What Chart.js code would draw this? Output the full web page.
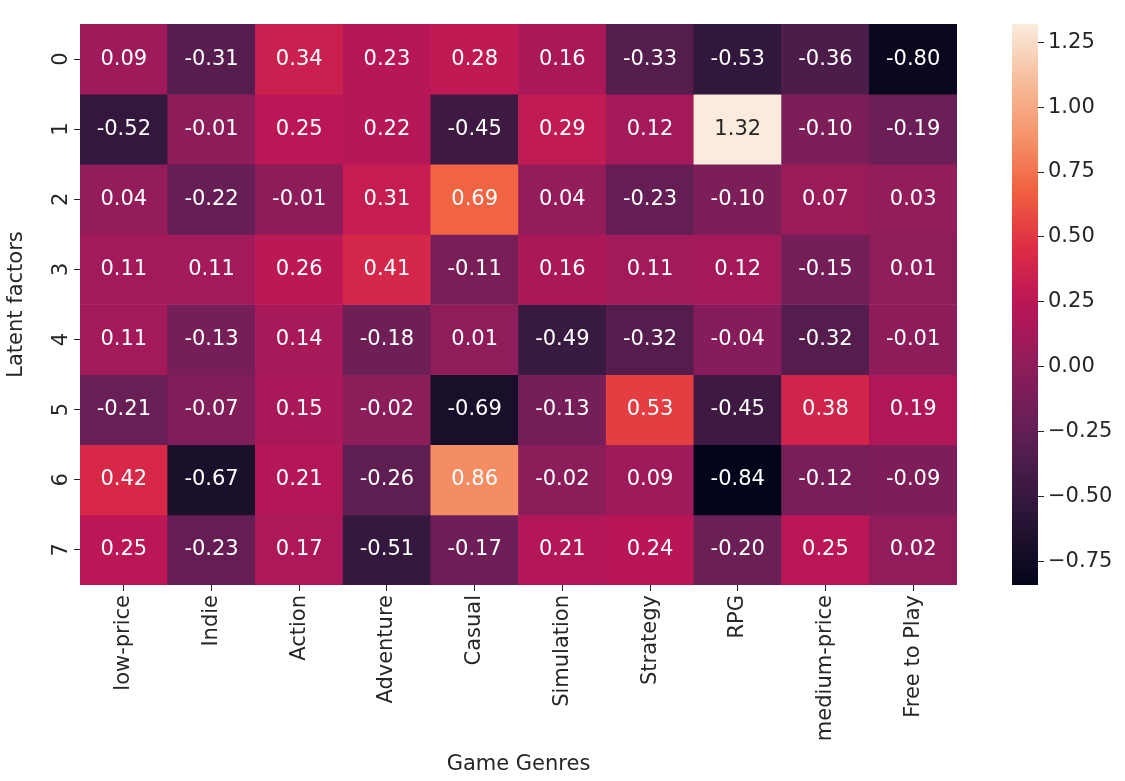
<!DOCTYPE html>
<html>
<head>
<meta charset="utf-8">
<script src="https://cdn.jsdelivr.net/npm/chart.js@4"></script>
<style>
  body { margin: 0; background: #fff; width: 1125px; height: 781px; overflow: hidden; }
  #wrap { position: absolute; left: 0; top: 0; width: 990px; height: 781px; }
  #cbwrap { position: absolute; left: 990px; top: 0; width: 135px; height: 781px; }
</style>
</head>
<body>
<div id="wrap"><canvas id="heat"></canvas></div>
<div id="cbwrap"><canvas id="cbar"></canvas></div>
<script>
const genres = ['low-price', 'Indie', 'Action', 'Adventure', 'Casual', 'Simulation', 'Strategy', 'RPG', 'medium-price', 'Free to Play'];
const factors = ['0', '1', '2', '3', '4', '5', '6', '7'];
const row0 = [0.09, -0.31, 0.34, 0.23, 0.28, 0.16, -0.33, -0.53, -0.36, -0.80];
const row1 = [-0.52, -0.01, 0.25, 0.22, -0.45, 0.29, 0.12, 1.32, -0.10, -0.19];
const row2 = [0.04, -0.22, -0.01, 0.31, 0.69, 0.04, -0.23, -0.10, 0.07, 0.03];
const row3 = [0.11, 0.11, 0.26, 0.41, -0.11, 0.16, 0.11, 0.12, -0.15, 0.01];
const row4 = [0.11, -0.13, 0.14, -0.18, 0.01, -0.49, -0.32, -0.04, -0.32, -0.01];
const row5 = [-0.21, -0.07, 0.15, -0.02, -0.69, -0.13, 0.53, -0.45, 0.38, 0.19];
const row6 = [0.42, -0.67, 0.21, -0.26, 0.86, -0.02, 0.09, -0.84, -0.12, -0.09];
const row7 = [0.25, -0.23, 0.17, -0.51, -0.17, 0.21, 0.24, -0.20, 0.25, 0.02];
const rows = [row0, row1, row2, row3, row4, row5, row6, row7];
const cbTicks = [-0.75, -0.5, -0.25, 0, 0.25, 0.5, 0.75, 1.0, 1.25];

const vmin = Math.min(...rows.flat());
const vmax = Math.max(...rows.flat());

// rough rocket colormap
const stops = ['#03051a', '#221331', '#451c47', '#6b1f56', '#921c5b', '#b91657', '#dd2c45', '#f0603f', '#f5936a', '#f6be9c', '#faebdd'];
function hex(h) { return [1, 3, 5].map(i => parseInt(h.substr(i, 2), 16)); }
function rocket(t) {
    t = Math.max(0, Math.min(1, t)) * (stops.length - 1);
    const i = Math.min(Math.floor(t), stops.length - 2), f = t - i;
    const a = hex(stops[i]), b = hex(stops[i + 1]);
    return a.map((v, k) => Math.round(v + (b[k] - v) * f));
}
function colorFor(v) { const c = rocket((v - vmin) / (vmax - vmin)); return `rgb(${c[0]},${c[1]},${c[2]})`; }
function textFor(v) {
    const c = rocket((v - vmin) / (vmax - vmin)).map(x => { x /= 255; return x <= 0.03928 ? x / 12.92 : Math.pow((x + 0.055) / 1.055, 2.4); });
    const lum = 0.2126 * c[0] + 0.7152 * c[1] + 0.0722 * c[2];
    return lum > 0.408 ? '#262626' : '#ffffff';
}

const FONT = 'DejaVu Sans';

const cellLabels = {
    id: 'cellLabels',
    afterDatasetsDraw(chart) {
        const ctx = chart.ctx;
        ctx.save();
        ctx.font = `21px "${FONT}"`;
        ctx.textAlign = 'center';
        ctx.textBaseline = 'middle';
        chart.data.datasets.forEach((ds, r) => {
            chart.getDatasetMeta(r).data.forEach((el, c) => {
                const v = rows[r][c];
                ctx.fillStyle = textFor(v);
                ctx.fillText(v.toFixed(2), el.x, (el.y + el.base) / 2);
            });
        });
        // vertical y tick labels
        const ys = chart.scales.y;
        ctx.fillStyle = '#262626';
        factors.forEach((f, i) => {
            const y = ys.getPixelForValue(i);
            ctx.save();
            ctx.translate(ys.right - 18, y);
            ctx.rotate(-Math.PI / 2);
            ctx.fillText(f, 0, 0);
            ctx.restore();
        });
        ctx.restore();
    }
};

new Chart(document.getElementById('heat'), {
    type: 'bar',
    data: {
        labels: genres,
        datasets: rows.map((row, r) => ({
            label: factors[r],
            data: row.map(() => [r - 0.5, r + 0.5]),
            backgroundColor: row.map(colorFor),
            grouped: false,
            barPercentage: 1,
            categoryPercentage: 1,
            borderWidth: 0,
        })),
    },
    options: {
        responsive: true,
        maintainAspectRatio: false,
        animation: false,
        layout: { padding: { left: 0, top: 24, right: 33, bottom: 0 } },
        plugins: { legend: { display: false }, tooltip: { enabled: false } },
        scales: {
            x: {
                grid: { offset: false, drawOnChartArea: false, tickLength: 6, color: '#262626' },
                border: { display: false },
                ticks: { minRotation: 90, maxRotation: 90, color: '#262626', font: { family: FONT, size: 21 }, padding: 4 },
                title: { display: true, text: 'Game Genres', color: '#262626', font: { family: FONT, size: 21 }, padding: { top: 6 } },
                afterFit: (s) => { s.height = 196; },
            },
            y: {
                min: -0.5, max: 7.5, reverse: true,
                afterBuildTicks: (s) => { s.ticks = factors.map((f, i) => ({ value: i })); },
                grid: { drawOnChartArea: false, tickLength: 6, color: '#262626' },
                border: { display: false },
                ticks: { display: false },
                title: { display: true, text: 'Latent factors', color: '#262626', font: { family: FONT, size: 21 }, padding: { bottom: 0 } },
                afterFit: (s) => { s.width = 80; },
            },
        },
    },
    plugins: [cellLabels],
});

const gradientFill = {
    id: 'gradientFill',
    beforeDatasetsDraw(chart) {
        const { ctx, chartArea } = chart;
        const ys = chart.scales.y;
        ctx.save();
        for (let p = Math.floor(chartArea.top); p < chartArea.bottom; p++) {
            ctx.fillStyle = colorFor(ys.getValueForPixel(p + 0.5));
            ctx.fillRect(chartArea.left, p, chartArea.right - chartArea.left, 1);
        }
        ctx.restore();
    }
};

new Chart(document.getElementById('cbar'), {
    type: 'bar',
    data: { labels: [''], datasets: [{ data: [] }] },
    options: {
        responsive: true,
        maintainAspectRatio: false,
        animation: false,
        layout: { padding: { left: 22, top: 24, right: 0, bottom: 196 } },
        plugins: { legend: { display: false }, tooltip: { enabled: false } },
        scales: {
            x: { display: false },
            y: {
                position: 'right',
                min: vmin, max: vmax,
                afterBuildTicks: (s) => { s.ticks = cbTicks.map(v => ({ value: v })); },
                grid: { drawOnChartArea: false, tickLength: 6, color: '#262626' },
                border: { display: false },
                ticks: {
                    color: '#262626', font: { family: FONT, size: 21 }, padding: 4,
                    callback: (v) => (v < 0 ? '\u2212' : '') + Math.abs(v).toFixed(2),
                },
                afterFit: (s) => { s.width = 87; },
            },
        },
    },
    plugins: [gradientFill],
});
</script>
</body>
</html>
